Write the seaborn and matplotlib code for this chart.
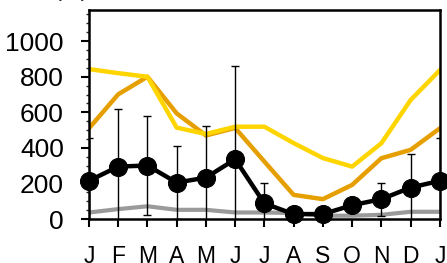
import numpy as np
import pandas as pd
import seaborn as sns
import matplotlib.pyplot as plt
from matplotlib.ticker import MultipleLocator

# values (monthly, Jan..Jan)
months = ['J', 'F', 'M', 'A', 'M', 'J', 'J', 'A', 'S', 'O', 'N', 'D', 'J']
yellow = [843, 820, 800, 514, 478, 519, 519, 427, 343, 295, 426, 669, 837]
orange = [510, 701, 800, 594, 470, 512, 323, 136, 112, 192, 342, 389, 510]
black = [215, 295, 301, 205, 233, 336, 88, 28, 28, 78, 112, 177, 215]
black_err = [243, 322, 278, 206, 290, 524, 112, 0, 0, 0, 93, 187, 243]
gray = [37, 56, 72, 52, 52, 37, 37, 34, 19, 19, 24, 41, 41]

x = np.arange(len(months))
df = pd.DataFrame({'x': x, 'yellow': yellow, 'orange': orange, 'black': black, 'gray': gray})

sns.set_style('ticks')
plt.rcParams['font.family'] = ['Liberation Sans', 'DejaVu Sans']

fig = plt.figure(figsize=(4.47, 2.63), dpi=100)
ax = fig.add_axes([0.199, 0.167, 0.785, 0.795])

sns.lineplot(data=df, x='x', y='gray', color='#9a9a9a', lw=3, ax=ax)
sns.lineplot(data=df, x='x', y='orange', color='#E69F00', lw=3.2, ax=ax)
sns.lineplot(data=df, x='x', y='yellow', color='#FFD500', lw=3.2, ax=ax)
ax.errorbar(x, black, yerr=black_err, fmt='none', ecolor='black', elinewidth=1, capsize=3, capthick=1)
sns.lineplot(data=df, x='x', y='black', color='black', lw=3.2, marker='o', markersize=13,
             markeredgecolor='black', ax=ax, clip_on=False, zorder=5)

ax.set_xlim(0, 12)
ax.set_ylim(0, 1175)
ax.set_xticks(x)
ax.set_xticklabels(months)
ax.set_yticks([0, 200, 400, 600, 800, 1000])
ax.yaxis.set_minor_locator(MultipleLocator(50))
ax.set_xlabel('')
ax.set_ylabel('')

for s in ax.spines.values():
    s.set_linewidth(1.8)
    s.set_color('black')
ax.tick_params(axis='both', which='major', direction='out', length=5.5, width=1.5, colors='black')
ax.tick_params(axis='y', which='major', labelsize=19, pad=12.5)
ax.tick_params(axis='x', which='major', labelsize=16.5, pad=13.5)
ax.tick_params(axis='y', which='minor', direction='out', length=2.5, width=1)
ax.tick_params(axis='x', which='minor', bottom=False)

# unit label sitting above the figure edge, only its bottom shows
fig.text(0.159, 1.014, '(m)', fontsize=17, ha='center', va='baseline')

fig.savefig('out.png', dpi=100)
